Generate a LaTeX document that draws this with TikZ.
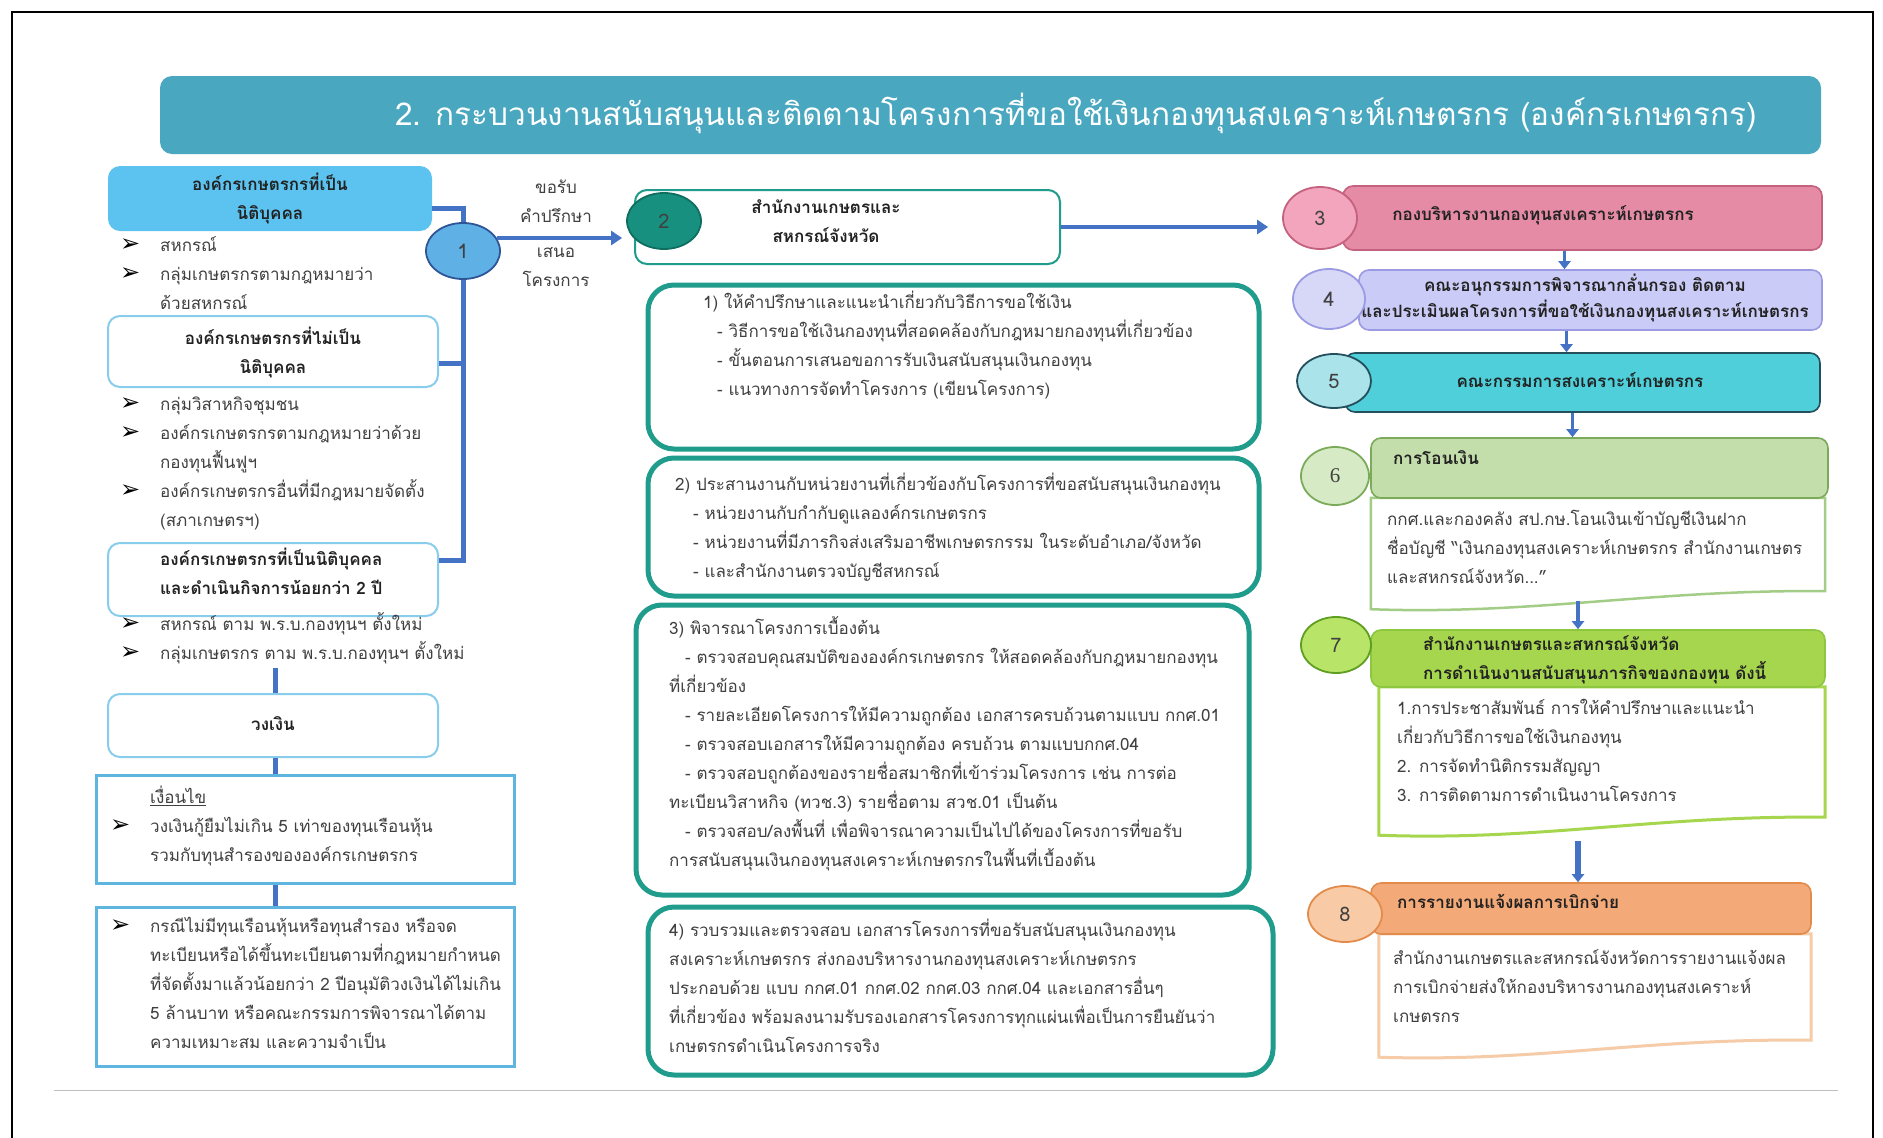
\documentclass[tikz,border=0pt]{standalone}
\usepackage{fontspec}
\setmainfont[Script=Thai]{Loma}
\newfontfamily\dejavu{DejaVu Sans}
\newfontfamily\serifnum{Liberation Serif}
\usetikzlibrary{arrows.meta,shapes.geometric,calc}
\definecolor{titlebg}{HTML}{49A7BF}
\definecolor{boxAfill}{HTML}{5CC3F0}
\definecolor{lightbd}{HTML}{88CDEB}
\definecolor{condbd}{HTML}{5DB5E0}
\definecolor{busblue}{HTML}{4472C4}
\definecolor{c1fill}{HTML}{5FB0E5}
\definecolor{c1bd}{HTML}{2F5597}
\definecolor{tealbd}{HTML}{1F9C8B}
\definecolor{c2fill}{HTML}{17907F}
\definecolor{c2bd}{HTML}{0F6E60}
\definecolor{txt}{HTML}{404040}
\definecolor{btxt}{HTML}{222222}
\definecolor{pinkfill}{HTML}{E58BA5}
\definecolor{pinkbd}{HTML}{C4617F}
\definecolor{c3fill}{HTML}{F2A5BD}
\definecolor{lavfill}{HTML}{CBCBF7}
\definecolor{lavbd}{HTML}{9B9BE3}
\definecolor{c4fill}{HTML}{D7D7F8}
\definecolor{cyanfill}{HTML}{4ECFD9}
\definecolor{cyanbd}{HTML}{24505E}
\definecolor{c5fill}{HTML}{AAE3EA}
\definecolor{grfill}{HTML}{C4DEAB}
\definecolor{grbd}{HTML}{7AAA5A}
\definecolor{grlight}{HTML}{A3CD86}
\definecolor{c6fill}{HTML}{D6EBC5}
\definecolor{limefill}{HTML}{A6D64E}
\definecolor{limebd}{HTML}{8DC63F}
\definecolor{c7fill}{HTML}{B8E468}
\definecolor{c7bd}{HTML}{5E9E20}
\definecolor{orfill}{HTML}{F3AA78}
\definecolor{orbd}{HTML}{E38B4B}
\definecolor{c8fill}{HTML}{F8CBA6}
\definecolor{orlight}{HTML}{F5CBA8}
\newcommand\tstrut{\rule{0pt}{20pt}}
\newcommand\bul{\makebox[30pt][l]{\hspace*{-10pt}\color{black}\dejavu\fontsize{24}{24}\selectfont\char"27A2}}
\newcommand\ind{\hspace*{30pt}}
\tikzset{
  fs/.style={font=\fontsize{17}{29}\selectfont},
  fsb/.style={font=\fontsize{17}{29}\selectfont\bfseries},
  para/.style={fs, text=txt, align=left, anchor=north west, inner sep=0pt},
  cpara/.style={fsb, text=btxt, align=center, anchor=north, inner sep=0pt},
  lpara/.style={fsb, text=btxt, align=left, anchor=north west, inner sep=0pt},
  lbox/.style={draw=lightbd, line width=2pt, fill=white, rounded corners=12pt},
  mbox/.style={draw=tealbd, line width=5pt, fill=white, rounded corners=26pt},
  hbox/.style={line width=1.6pt, rounded corners=10pt},
  numc/.style={ellipse, line width=1.8pt, inner sep=0pt, font=\fontsize{20}{24}\selectfont, text=black!75},
  bus/.style={draw=busblue, line width=5pt},
  arr/.style={draw=busblue, line width=3.5pt, -{Triangle[width=14pt,length=11pt]}},
  arrs/.style={draw=busblue, line width=3.5pt, -{Triangle[width=12pt,length=8pt]}}
}
\begin{document}
\begin{tikzpicture}[x=1pt,y=-1pt]
\useasboundingbox (0,0) rectangle (1883,1138);
\fill[white] (0,0) rectangle (1883,1138);
\draw[line width=2pt] (12,12) rectangle (1873,1160);
\draw[black!25, line width=1pt] (54,1090) -- (1838,1090);

% title
\node[fill=titlebg, rounded corners=12pt, minimum width=1661pt, minimum height=78pt] (T) at (990.5,115) {};
\node[font=\fontsize{31.5}{36}\selectfont, text=white, anchor=base, inner sep=0pt] (Tt) at (1076,125) {2. กระบวนงานสนับสนุนและติดตามโครงการที่ขอใช้เงินกองทุนสงเคราะห์เกษตรกร (องค์กรเกษตรกร)};

% ---------- left column ----------
\node[para] (Lb1) at (130,231) {\tstrut\bul สหกรณ์\\\bul กลุ่มเกษตรกรตามกฎหมายว่า\\\ind ด้วยสหกรณ์};
\node[fill=boxAfill, rounded corners=12pt, minimum width=324pt, minimum height=65pt] (A) at (270,198.5) {};
\node[cpara] (At) at (270,170) {\tstrut องค์กรเกษตรกรที่เป็น\\นิติบุคคล};

\node[lbox, minimum width=330pt, minimum height=71pt] (B) at (273,351.5) {};
\node[cpara] (Bt) at (273,324) {\tstrut องค์กรเกษตรกรที่ไม่เป็น\\นิติบุคคล};
\node[para] (Lb2) at (130,390) {\tstrut\bul กลุ่มวิสาหกิจชุมชน\\\bul องค์กรเกษตรกรตามกฎหมายว่าด้วย\\\ind กองทุนฟื้นฟูฯ\\\bul องค์กรเกษตรกรอื่นที่มีกฎหมายจัดตั้ง\\\ind (สภาเกษตรฯ)};

\node[lbox, minimum width=330pt, minimum height=73pt] (C) at (273,579.5) {};
\node[lpara] (Ct) at (160,545) {\tstrut องค์กรเกษตรกรที่เป็นนิติบุคคล\\และดำเนินกิจการน้อยกว่า 2 ปี};
\node[para] (Lb3) at (130,610) {\tstrut\bul สหกรณ์ ตาม พ.ร.บ.กองทุนฯ ตั้งใหม่\\\bul กลุ่มเกษตรกร ตาม พ.ร.บ.กองทุนฯ ตั้งใหม่};

\node[lbox, minimum width=330pt, minimum height=63pt] (D) at (273,725.5) {};
\node[fsb, text=btxt, anchor=base, inner sep=0pt] (Dt) at (273,730) {วงเงิน};

\node[draw=condbd, line width=3pt, fill=white, minimum width=418pt, minimum height=108pt] (E) at (305,829) {};
\node[para] (Et) at (120,783) {\tstrut\ind\underline{เงื่อนไข}\\\bul วงเงินกู้ยืมไม่เกิน 5 เท่าของทุนเรือนหุ้น\\\ind รวมกับทุนสำรองขององค์กรเกษตรกร};

\node[draw=condbd, line width=3pt, fill=white, minimum width=418pt, minimum height=159pt] (F) at (305,986.5) {};
\node[para] (Ft) at (120,912) {\tstrut\bul กรณีไม่มีทุนเรือนหุ้นหรือทุนสำรอง หรือจด\\\ind ทะเบียนหรือได้ขึ้นทะเบียนตามที่กฎหมายกำหนด\\\ind ที่จัดตั้งมาแล้วน้อยกว่า 2 ปีอนุมัติวงเงินได้ไม่เกิน\\\ind 5 ล้านบาท หรือคณะกรรมการพิจารณาได้ตาม\\\ind ความเหมาะสม และความจำเป็น};

% bus connectors
\coordinate (busTop) at (463,208);
\coordinate (busBot) at (463,560);
\draw[bus] (A.east |- busTop) -- (busTop) -- (busBot) -- (busBot -| C.east);
\draw[bus] ([yshift=-11.5pt]B.east) -- ([yshift=-11.5pt]B.east -| busTop);
\coordinate (Lv) at (275,668);
\draw[bus] (Lv) -- (Lv |- D.north);
\draw[bus] (Lv |- D.south) -- (Lv |- E.north);
\draw[bus] (Lv |- E.south) -- (Lv |- F.north);

\node[numc, draw=c1bd, fill=c1fill, minimum width=74pt, minimum height=56pt] (N1) at (463,251) {1};

% labels
\node[fs, text=txt, align=center, anchor=north, inner sep=0pt] (Lab1) at (556,173) {\tstrut ขอรับ\\คำปรึกษา};
\node[fs, text=txt, align=center, anchor=north, inner sep=0pt] (Lab2) at (556,237) {\tstrut เสนอ\\โครงการ};

% ---------- middle column ----------
\node[draw=tealbd, line width=2pt, fill=white, rounded corners=12pt, minimum width=425pt, minimum height=74pt] (B2) at (847.5,227) {};
\node[cpara] (B2t) at (826,193) {\tstrut สำนักงานเกษตรและ\\สหกรณ์จังหวัด};
\node[numc, draw=c2bd, fill=c2fill, minimum width=74pt, minimum height=56pt] (N2) at (664,221) {2};
\draw[arr] ([xshift=-4pt,yshift=13pt]N1.east) -- ([xshift=-4pt,yshift=13pt]N1.east -| N2.west);

\node[mbox, minimum width=611pt, minimum height=164pt] (M1) at (953.5,367) {};
\node[para] (M1t) at (703,288) {\tstrut 1) ให้คำปรึกษาและแนะนำเกี่ยวกับวิธีการขอใช้เงิน\\\hspace*{14pt}- วิธีการขอใช้เงินกองทุนที่สอดคล้องกับกฎหมายกองทุนที่เกี่ยวข้อง\\\hspace*{14pt}- ขั้นตอนการเสนอขอการรับเงินสนับสนุนเงินกองทุน\\\hspace*{14pt}- แนวทางการจัดทำโครงการ (เขียนโครงการ)};

\node[mbox, minimum width=611pt, minimum height=138pt] (M2) at (953.5,527) {};
\node[para] (M2t) at (675,470) {\tstrut 2) ประสานงานกับหน่วยงานที่เกี่ยวข้องกับโครงการที่ขอสนับสนุนเงินกองทุน\\\hspace*{18pt}- หน่วยงานกับกำกับดูแลองค์กรเกษตรกร\\\hspace*{18pt}- หน่วยงานที่มีภารกิจส่งเสริมอาชีพเกษตรกรรม ในระดับอำเภอ/จังหวัด\\\hspace*{18pt}- และสำนักงานตรวจบัญชีสหกรณ์};

\node[mbox, minimum width=613pt, minimum height=290pt] (M3) at (942.5,750) {};
\node[para] (M3t) at (669,614) {\tstrut 3) พิจารณาโครงการเบื้องต้น\\\hspace*{16pt}- ตรวจสอบคุณสมบัติขององค์กรเกษตรกร ให้สอดคล้องกับกฎหมายกองทุน\\ที่เกี่ยวข้อง\\\hspace*{16pt}- รายละเอียดโครงการให้มีความถูกต้อง เอกสารครบถ้วนตามแบบ กกศ.01\\\hspace*{16pt}- ตรวจสอบเอกสารให้มีความถูกต้อง ครบถ้วน ตามแบบกกศ.04\\\hspace*{16pt}- ตรวจสอบถูกต้องของรายชื่อสมาชิกที่เข้าร่วมโครงการ เช่น การต่อ\\ทะเบียนวิสาหกิจ (ทวช.3) รายชื่อตาม สวช.01 เป็นต้น\\\hspace*{16pt}- ตรวจสอบ/ลงพื้นที่ เพื่อพิจารณาความเป็นไปได้ของโครงการที่ขอรับ\\การสนับสนุนเงินกองทุนสงเคราะห์เกษตรกรในพื้นที่เบื้องต้น};

\node[mbox, minimum width=625pt, minimum height=168pt] (M4) at (960.5,991) {};
\node[para] (M4t) at (669,916) {\tstrut 4) รวบรวมและตรวจสอบ เอกสารโครงการที่ขอรับสนับสนุนเงินกองทุน\\สงเคราะห์เกษตรกร ส่งกองบริหารงานกองทุนสงเคราะห์เกษตรกร\\ประกอบด้วย แบบ กกศ.01 กกศ.02 กกศ.03 กกศ.04 และเอกสารอื่นๆ\\ที่เกี่ยวข้อง พร้อมลงนามรับรองเอกสารโครงการทุกแผ่นเพื่อเป็นการยืนยันว่า\\เกษตรกรดำเนินโครงการจริง};

% ---------- right column ----------
\node[hbox, draw=pinkbd, fill=pinkfill, minimum width=479pt, minimum height=64pt] (H3) at (1582.5,218) {};
\node[fsb, text=btxt, anchor=base, inner sep=0pt] (H3t) at (1543,220) {กองบริหารงานกองทุนสงเคราะห์เกษตรกร};
\node[numc, draw=pinkbd, fill=c3fill, minimum width=74pt, minimum height=62pt] (N3) at (1320,218) {3};
\draw[arr] (B2.east) -- ([xshift=-14pt]N3.west |- B2.east);

\node[hbox, draw=lavbd, fill=lavfill, minimum width=463pt, minimum height=60pt] (H4) at (1590.5,300) {};
\node[cpara, font=\fontsize{17}{26}\selectfont\bfseries] (H4t) at (1585,271) {\tstrut คณะอนุกรรมการพิจารณากลั่นกรอง ติดตาม\\และประเมินผลโครงการที่ขอใช้เงินกองทุนสงเคราะห์เกษตรกร};
\node[numc, draw=lavbd, fill=c4fill, minimum width=72pt, minimum height=60pt] (N4) at (1329,299) {4};

\node[hbox, draw=cyanbd, fill=cyanfill, minimum width=475pt, minimum height=59pt] (H5) at (1582.5,382.5) {};
\node[fsb, text=btxt, anchor=base, inner sep=0pt] (H5t) at (1580,387) {คณะกรรมการสงเคราะห์เกษตรกร};
\node[numc, draw=cyanbd, fill=c5fill, minimum width=74pt, minimum height=54pt] (N5) at (1334,381) {5};

% 6
\node[minimum width=454pt, minimum height=93pt, inner sep=0pt] (D6) at (1598,544.5) {};
\draw[grlight, line width=2.5pt, fill=white] (D6.north west) -- (D6.north east) -- (D6.south east) .. controls ($(D6.south east)+(-170,-2)$) and ($(D6.south west)+(160,24)$) .. ($(D6.south west)+(0,18)$) -- cycle;
\node[hbox, draw=grbd, fill=grfill, minimum width=457pt, minimum height=60pt] (H6) at (1599.5,468) {};
\node[fsb, text=btxt, anchor=base west, inner sep=0pt] (H6t) at (1393,464) {การโอนเงิน};
\node[numc, draw=grbd, fill=c6fill, minimum width=68pt, minimum height=58pt, font=\serifnum\fontsize{21}{24}\selectfont] (N6) at (1335,476) {6};
\node[para] (D6t) at (1387,505) {\tstrut กกศ.และกองคลัง สป.กษ.โอนเงินเข้าบัญชีเงินฝาก\\ชื่อบัญชี “เงินกองทุนสงเคราะห์เกษตรกร สำนักงานเกษตร\\และสหกรณ์จังหวัด...”};
\draw[arrs] ([xshift=-18pt]H3.south) -- ([xshift=-18pt]H3.south |- H4.north);
\draw[arrs] ([xshift=-24pt]H4.south) -- ([xshift=-24pt]H4.south |- H5.north);
\draw[arrs] ([xshift=-10pt]H5.south) -- ([xshift=-10pt]H5.south |- H6.north);

% 7
\node[minimum width=446pt, minimum height=130pt, inner sep=0pt] (D7) at (1602,752) {};
\draw[limefill, line width=3pt, fill=white] (D7.north west) -- (D7.north east) -- (D7.south east) .. controls ($(D7.south east)+(-170,-2)$) and ($(D7.south west)+(160,24)$) .. ($(D7.south west)+(0,18)$) -- cycle;
\node[hbox, draw=limebd, fill=limefill, minimum width=454pt, minimum height=57pt] (H7) at (1598,658.5) {};
\node[lpara] (H7t) at (1423,630) {\tstrut สำนักงานเกษตรและสหกรณ์จังหวัด\\การดำเนินงานสนับสนุนภารกิจของกองทุน ดังนี้};
\node[numc, draw=c7bd, fill=c7fill, minimum width=70pt, minimum height=56pt] (N7) at (1336,645) {7};
\node[para] (D7t) at (1397,694) {\tstrut 1.การประชาสัมพันธ์ การให้คำปรึกษาและแนะนำ\\เกี่ยวกับวิธีการขอใช้เงินกองทุน\\2. การจัดทำนิติกรรมสัญญา\\3. การติดตามการดำเนินงานโครงการ};
\coordinate (D6b) at ($(D6.south)+(-20,10)$);
\draw[arrs] (D6b) -- (D6b |- H7.north);

% 8
\node[minimum width=432pt, minimum height=106pt, inner sep=0pt] (D8) at (1595,987) {};
\draw[orlight, line width=3pt, fill=white] (D8.north west) -- (D8.north east) -- (D8.south east) .. controls ($(D8.south east)+(-170,-2)$) and ($(D8.south west)+(160,22)$) .. ($(D8.south west)+(0,17)$) -- cycle;
\node[hbox, draw=orbd, fill=orfill, minimum width=440pt, minimum height=51pt] (H8) at (1591,908.5) {};
\node[fsb, text=btxt, anchor=base west, inner sep=0pt] (H8t) at (1397,908) {การรายงานแจ้งผลการเบิกจ่าย};
\node[numc, draw=orbd, fill=c8fill, minimum width=74pt, minimum height=56pt] (N8) at (1345,914) {8};
\node[para] (D8t) at (1393,944) {\tstrut สำนักงานเกษตรและสหกรณ์จังหวัดการรายงานแจ้งผล\\การเบิกจ่ายส่งให้กองบริหารงานกองทุนสงเคราะห์\\เกษตรกร};
\coordinate (D7b) at ($(D7.south)+(-24,24)$);
\draw[arrs, line width=6pt] (D7b) -- (D7b |- H8.north);
\end{tikzpicture}
\end{document}
